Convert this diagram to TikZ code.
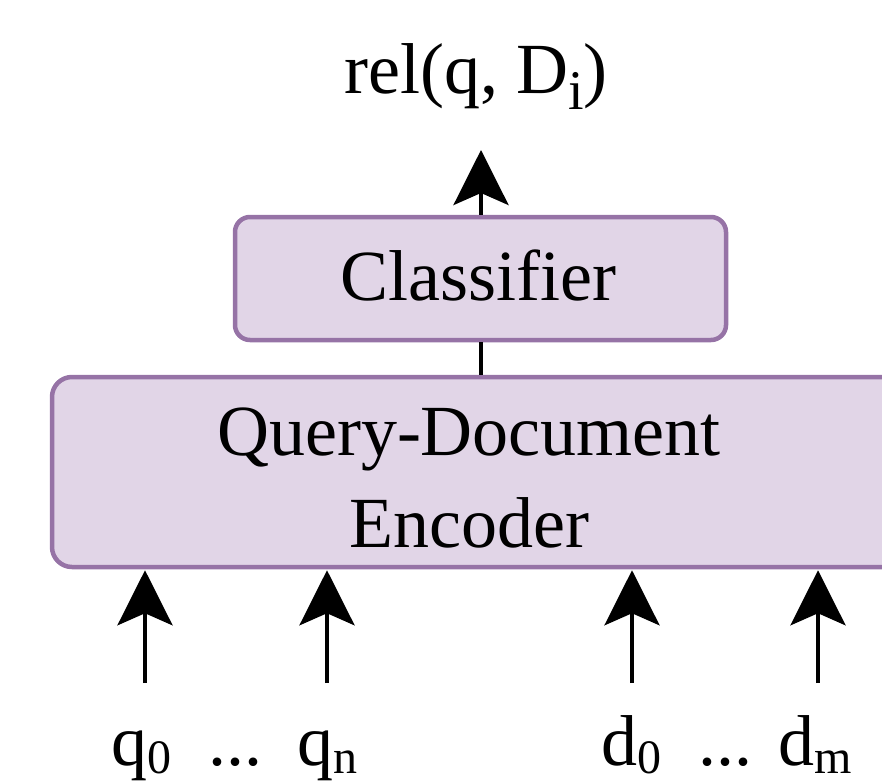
\documentclass[tikz,border=0pt]{standalone}
\usepackage{fontspec}
\setmainfont{Liberation Serif}
\usetikzlibrary{arrows.meta}
\definecolor{boxfill}{HTML}{E1D5E7}
\definecolor{boxline}{HTML}{9673A6}
\newcommand{\bigtxt}{\fontsize{72}{86}\selectfont}
\newcommand{\sbs}[1]{\raisebox{-8pt}{\fontsize{48}{48}\selectfont #1}}
\newcommand{\sbsr}[1]{\raisebox{-16pt}{\fontsize{56}{56}\selectfont #1}}
\tikzset{
  boxshape/.style={draw=boxline, fill=boxfill, line width=4.5pt, rectangle, inner sep=0pt},
  lbl/.style={anchor=base, inner sep=0pt, font=\bigtxt},
  conn/.style={line width=4pt, draw=black},
  arr/.style={conn, -{Stealth[length=55pt, width=55pt, inset=12pt]}},
}
\begin{document}
\begin{tikzpicture}[x=1pt, y=-1pt]
\useasboundingbox (0,0) rectangle (882,782);
\begin{scope}
\clip (0,0) rectangle (882,782);
% encoder box
\node (enc) [boxshape, rounded corners=20pt, minimum width=855pt, minimum height=190pt] at (479.5,472) {};
\node (encA) [lbl] at (469,455) {Query-Document};
\node (encB) [lbl] at (469,547) {Encoder};
% classifier box
\node (cls) [boxshape, rounded corners=15pt, minimum width=491pt, minimum height=123pt] at (480.5,278.5) {};
\node (clsT) [lbl] at (478,300) {Classifier};
% output
\node (rel) [lbl] at (476,93) {rel(q, D\sbsr{i})};
\coordinate (top) at (481,150);
\draw[conn] (enc.north -| top) -- (cls.south -| top);
\draw[arr] (cls.north -| top) -- (top);
% inputs
\coordinate (ia) at (145,683);
\coordinate (ib) at (327,683);
\coordinate (ic) at (632,683);
\coordinate (id) at (818,683);
\foreach \p in {ia,ib,ic,id}{
  \draw[arr] (\p) -- ([yshift=-1pt]enc.south -| \p);
}
\node (q0) [lbl] at (141,765) {q\sbs{0}};
\node (dotsA) [lbl] at (235,765) {...};
\node (qn) [lbl] at (327,765) {q\sbs{n}};
\node (d0) [lbl] at (631,765) {d\sbs{0}};
\node (dotsB) [lbl] at (725,765) {...};
\node (dm) [lbl] at (815,765) {d\sbs{m}};
\end{scope}
\end{tikzpicture}
\end{document}
